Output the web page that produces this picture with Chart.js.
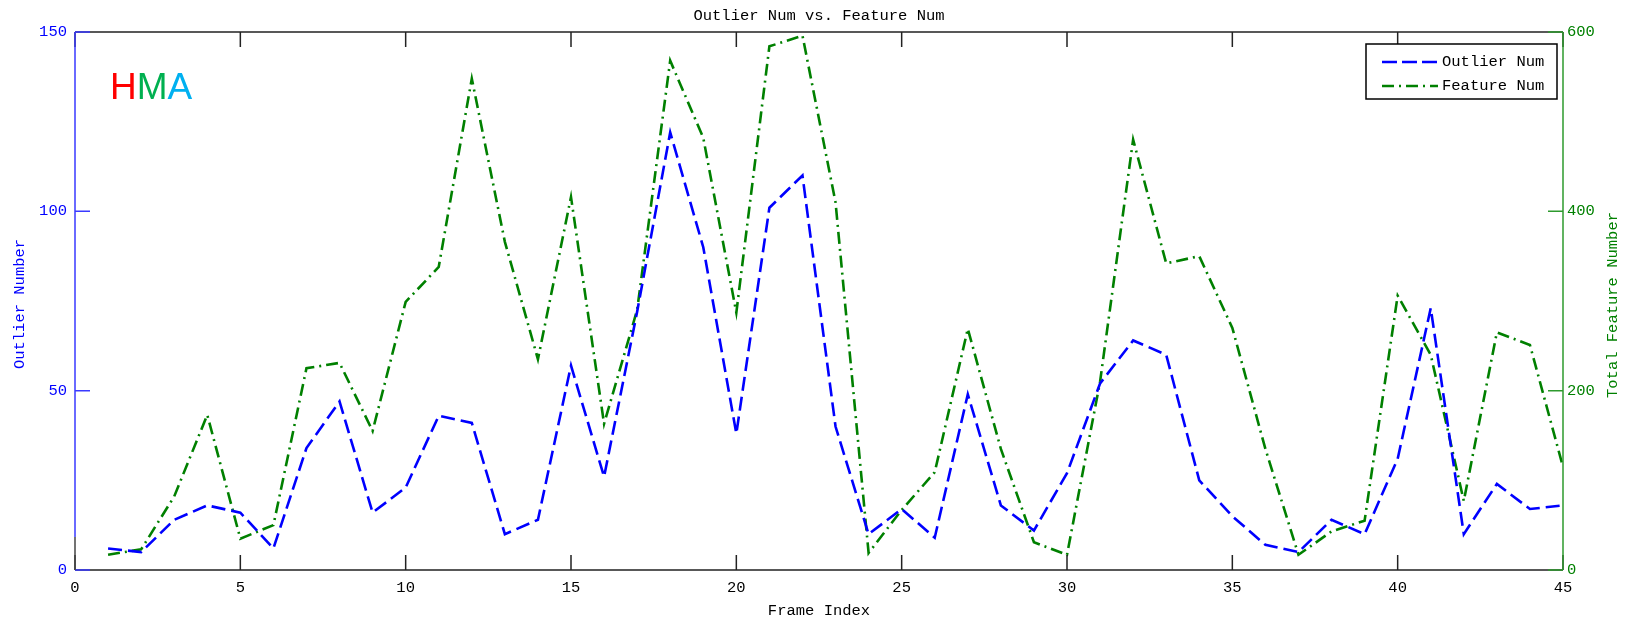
<!DOCTYPE html>
<html>
<head>
<meta charset="utf-8">
<script src="https://cdn.jsdelivr.net/npm/chart.js@4.4.1/dist/chart.umd.min.js"></script>
<style>
  html, body { margin: 0; padding: 0; background: #fff; }
  #wrap { width: 1643px; height: 626px; position: relative; }
</style>
</head>
<body>
<div id="wrap"><canvas id="myChart"></canvas></div>
<script>
const frames = [1, 2, 3, 4, 5, 6, 7, 8, 9, 10, 11, 12, 13, 14, 15, 16, 17, 18, 19, 20, 21, 22, 23,
  24, 25, 26, 27, 28, 29, 30, 31, 32, 33, 34, 35, 36, 37, 38, 39, 40, 41, 42, 43, 44, 45];
const outlierNum = [6, 5, 14, 18, 16, 6, 34, 47, 16, 23, 43, 41, 10, 14, 57, 26, 72, 122, 90, 38, 101, 110, 40,
  10, 17, 9, 49, 18, 11, 27, 52, 64, 60, 25, 15, 7, 5, 14, 10, 31, 73, 10, 24, 17, 18];
const featureNum = [17, 23, 82, 173, 35, 50, 225, 231, 155, 299, 338, 548, 366, 235, 416, 163, 290, 568, 482, 287, 584, 596, 410,
  19, 67, 109, 269, 135, 31, 17, 210, 480, 342, 350, 270, 135, 17, 43, 55, 306, 240, 77, 265, 251, 115];
const xTicks = [0, 5, 10, 15, 20, 25, 30, 35, 40, 45];
const leftTicks = [0, 50, 100, 150];
const rightTicks = [0, 200, 400, 600];

const BLUE = '#0000ff';
const GREEN = '#008000';
const FONT = '15.5px "Liberation Mono", "DejaVu Sans Mono", monospace';

// MATLAB-like frame: inward ticks, coloured side axes, titles, legend box, HMA logo
const matlabFrame = {
  id: 'matlabFrame',
  afterDraw(chart) {
    const { ctx, chartArea: a, scales } = chart;
    const tl = 15;
    ctx.save();

    ctx.lineWidth = 1.5;
    ctx.strokeStyle = '#222';
    ctx.beginPath();
    ctx.moveTo(a.left, a.top); ctx.lineTo(a.right, a.top);
    ctx.moveTo(a.left, a.bottom); ctx.lineTo(a.right, a.bottom);
    xTicks.forEach(v => {
      const px = scales.x.getPixelForValue(v);
      ctx.moveTo(px, a.bottom); ctx.lineTo(px, a.bottom - tl);
      ctx.moveTo(px, a.top); ctx.lineTo(px, a.top + tl);
    });
    ctx.moveTo(a.right, a.top); ctx.lineTo(a.right - tl, a.top);
    ctx.stroke();

    ctx.strokeStyle = '#3a3aff';
    ctx.beginPath();
    ctx.moveTo(a.left, a.top); ctx.lineTo(a.left, a.bottom - 33);
    leftTicks.forEach(v => {
      const py = scales.y.getPixelForValue(v);
      ctx.moveTo(a.left, py); ctx.lineTo(a.left + tl, py);
    });
    ctx.stroke();
    ctx.strokeStyle = '#444';
    ctx.beginPath();
    ctx.moveTo(a.left, a.bottom - 33); ctx.lineTo(a.left, a.bottom);
    ctx.stroke();

    ctx.strokeStyle = '#2e9a2e';
    ctx.beginPath();
    ctx.moveTo(a.right, a.top); ctx.lineTo(a.right, a.bottom);
    rightTicks.forEach(v => {
      const py = scales.y1.getPixelForValue(v);
      ctx.moveTo(a.right, py); ctx.lineTo(a.right - tl, py);
    });
    ctx.stroke();

    // titles
    ctx.font = FONT;
    ctx.textAlign = 'center';
    ctx.textBaseline = 'middle';
    ctx.fillStyle = '#000';
    const cx = (a.left + a.right) / 2;
    ctx.fillText('Outlier Num vs. Feature Num', cx, 16);
    ctx.fillText('Frame Index', cx, 611);
    const cy = (a.top + a.bottom) / 2;
    ctx.save();
    ctx.translate(20, cy + 3);
    ctx.rotate(-Math.PI / 2);
    ctx.fillStyle = BLUE;
    ctx.fillText('Outlier Number', 0, 0);
    ctx.restore();
    ctx.save();
    ctx.translate(1613, cy + 4);
    ctx.rotate(-Math.PI / 2);
    ctx.fillStyle = GREEN;
    ctx.fillText('Total Feature Number', 0, 0);
    ctx.restore();

    // legend
    const lx = 1366, ly = 44, lw = 191, lh = 55;
    ctx.fillStyle = '#fff';
    ctx.fillRect(lx, ly, lw, lh);
    ctx.lineWidth = 1.5;
    ctx.strokeStyle = '#000';
    ctx.strokeRect(lx, ly, lw, lh);
    const rows = [
      { label: 'Outlier Num', color: BLUE, dash: [15, 5], y: 62 },
      { label: 'Feature Num', color: GREEN, dash: [12, 5, 2, 5], y: 86 }
    ];
    rows.forEach(r => {
      ctx.beginPath();
      ctx.setLineDash(r.dash);
      ctx.lineWidth = 2.5;
      ctx.strokeStyle = r.color;
      ctx.moveTo(1382, r.y); ctx.lineTo(1438, r.y);
      ctx.stroke();
      ctx.setLineDash([]);
      ctx.fillStyle = '#000';
      ctx.textAlign = 'left';
      ctx.fillText(r.label, 1442, r.y);
    });

    // HMA mark
    ctx.font = '37px "Liberation Sans", Arial, sans-serif';
    ctx.textBaseline = 'alphabetic';
    let hx = 110;
    [['H', '#ff0000'], ['M', '#00b050'], ['A', '#00b0f0']].forEach(([ch, col]) => {
      ctx.fillStyle = col;
      ctx.fillText(ch, hx, 99);
      hx += ctx.measureText(ch).width;
    });

    ctx.restore();
  }
};

const ctx = document.getElementById('myChart');

new Chart(ctx, {
  type: 'line',
  data: {
    datasets: [{
      label: 'Outlier Num',
      data: frames.map((f, i) => ({ x: f, y: outlierNum[i] })),
      yAxisID: 'y',
      borderColor: BLUE,
      borderWidth: 2.6,
      borderDash: [14, 6],
      pointRadius: 0,
      tension: 0,
      fill: false
    }, {
      label: 'Feature Num',
      data: frames.map((f, i) => ({ x: f, y: featureNum[i] })),
      yAxisID: 'y1',
      borderColor: GREEN,
      borderWidth: 2.6,
      borderDash: [12, 5, 2, 5],
      pointRadius: 0,
      tension: 0,
      fill: false
    }]
  },
  options: {
    responsive: true,
    maintainAspectRatio: false,
    animation: false,
    layout: { padding: { top: 32, left: 0, right: 0, bottom: 0 } },
    plugins: {
      legend: { display: false },
      title: { display: false },
      tooltip: { enabled: false }
    },
    scales: {
      x: {
        type: 'linear',
        min: 0,
        max: 45,
        afterBuildTicks: s => { s.ticks = xTicks.map(v => ({ value: v })); },
        afterFit: s => { s.height = 56; },
        grid: { display: false, drawTicks: false },
        border: { display: false },
        ticks: { color: '#000', font: { family: '"Liberation Mono", monospace', size: 15.5 }, padding: 9, maxRotation: 0 }
      },
      y: {
        position: 'left',
        min: 0,
        max: 150,
        afterBuildTicks: s => { s.ticks = leftTicks.map(v => ({ value: v })); },
        afterFit: s => { s.width = 75; },
        grid: { display: false, drawTicks: false },
        border: { display: false },
        ticks: { color: BLUE, font: { family: '"Liberation Mono", monospace', size: 15.5 }, padding: 8 }
      },
      y1: {
        position: 'right',
        min: 0,
        max: 600,
        afterBuildTicks: s => { s.ticks = rightTicks.map(v => ({ value: v })); },
        afterFit: s => { s.width = 80; },
        grid: { display: false, drawTicks: false },
        border: { display: false },
        ticks: { color: GREEN, font: { family: '"Liberation Mono", monospace', size: 15.5 }, padding: 4 }
      }
    }
  },
  plugins: [matlabFrame]
});
</script>
</body>
</html>
